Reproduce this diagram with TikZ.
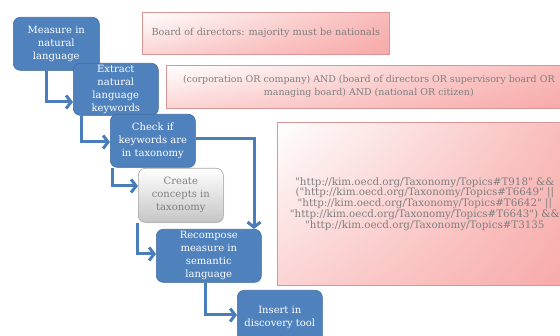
\documentclass[tikz,border=0pt]{standalone}
\usepackage{fontspec}
\setmainfont{DejaVu Serif}[Ligatures=TeXOff]
\usetikzlibrary{arrows.meta,shadows,shadings}
\definecolor{boxblue}{HTML}{4F81BD}
\definecolor{lineblue}{HTML}{4A7EBB}
\definecolor{pinkedge}{HTML}{D99694}
\definecolor{pinkfill}{HTML}{F7A9A8}
\definecolor{txtgray}{HTML}{7F7F7F}
\begin{document}
\begin{tikzpicture}[x=1pt,y=-1pt,
  stepbox/.style={draw=boxblue!85!black, line width=0.6pt, fill=boxblue, rounded corners=7pt,
    text=white, align=center, font=\fontsize{10}{13}\selectfont, anchor=north west, inner sep=0pt,
    drop shadow={shadow xshift=0.8pt, shadow yshift=-0.8pt, opacity=0.25}},
  graybox/.style={draw=gray!70, line width=0.6pt, top color=white, bottom color=gray!45, rounded corners=7pt,
    text=txtgray, align=center, font=\fontsize{10}{13}\selectfont, anchor=north west, inner sep=0pt,
    drop shadow={shadow xshift=0.8pt, shadow yshift=-0.8pt, opacity=0.25}},
  pinkbox/.style={draw=pinkedge, line width=0.7pt, shading=bilinear interpolation,
    upper left=white, upper right=pinkfill!80!white, lower left=pinkfill!50!white, lower right=pinkfill,
    text=txtgray, align=center, anchor=north west, inner sep=0pt,
    drop shadow={shadow xshift=0.8pt, shadow yshift=-1pt, opacity=0.3}},
  conn/.style={draw=lineblue, line width=3pt, -{Straight Barb[length=5pt,width=13pt]}}
]
\clip (0,0) rectangle (560,336);
\useasboundingbox (0,0) rectangle (560,336);

% pink boxes
\node[pinkbox, minimum width=247pt, minimum height=42pt, font=\fontsize{9.7}{13}\selectfont] (pa) at (142,12)
  {Board of directors: majority must be nationals};
\node[pinkbox, minimum width=405pt, minimum height=43pt, font=\fontsize{9.45}{13}\selectfont] (pb) at (166,65)
  {(corporation OR company) AND (board of directors OR supervisory board OR\\ managing board) AND (national OR citizen)};
\node[pinkbox, minimum width=295pt, minimum height=163pt, font=\fontsize{10.3}{10.8}\selectfont] (pc) at (277,122)
  {"http://kim.oecd.org/Taxonomy/Topics\#T918" \&\&\\
   ("http://kim.oecd.org/Taxonomy/Topics\#T6649" ||\\
   "http://kim.oecd.org/Taxonomy/Topics\#T6642" ||\\
   "http://kim.oecd.org/Taxonomy/Topics\#T6643") \&\&\\
   "http://kim.oecd.org/Taxonomy/Topics\#T3135};

% helper coordinates for connector bends
\coordinate (k1) at (46,102);
\coordinate (k2) at (81,142);
\coordinate (k3) at (112,186);
\coordinate (k4) at (254,139);
\coordinate (k5) at (137,254);
\coordinate (k6) at (205,315);

% step boxes
\node[stepbox, minimum width=86pt, minimum height=53pt] (b1) at (13,17) {Measure in\\natural\\language};
\node[stepbox, minimum width=85pt, minimum height=52pt] (b2) at (73,63) {Extract\\natural\\language\\keywords};
\node[stepbox, minimum width=85pt, minimum height=53pt] (b3) at (110,114) {Check if\\keywords are\\in taxonomy};
\node[graybox, minimum width=85pt, minimum height=54pt] (b4) at (138,168) {Create\\concepts in\\taxonomy};
\node[stepbox, minimum width=105pt, minimum height=53pt] (b5) at (156,229) {Recompose\\measure in\\semantic\\language};
\node[stepbox, minimum width=85pt, minimum height=54pt] (b6) at (237,290) {Insert in\\discovery tool};

% connectors
\draw[conn] (b1.south -| k1) |- (b2.west |- k1);
\draw[conn] (b2.south -| k2) |- (b3.west |- k2);
\draw[conn] (b3.south -| k3) |- (b4.west |- k3);
\draw[conn] (b3.east |- k4) -| (b5.north -| k4);
\draw[conn] (b4.south -| k5) |- (b5.west |- k5);
\draw[conn] (b5.south -| k6) |- (b6.west |- k6);
\end{tikzpicture}
\end{document}
